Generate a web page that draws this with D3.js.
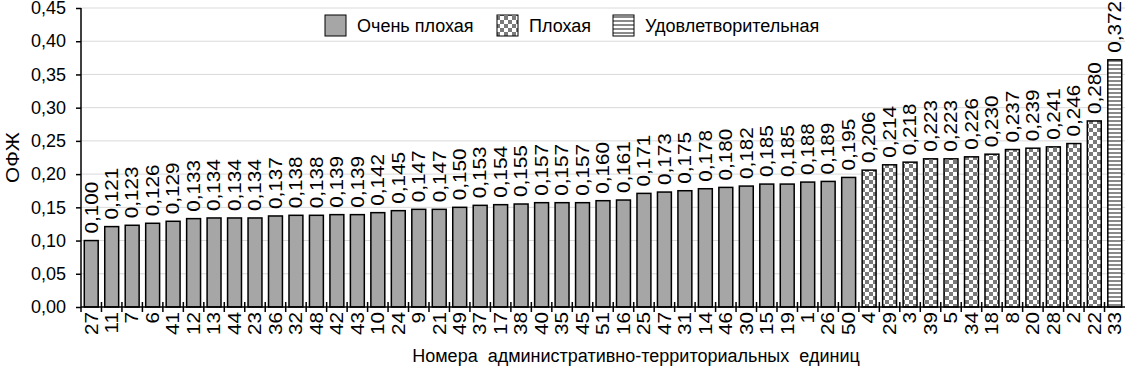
<!DOCTYPE html>
<html>
<head>
<meta charset="utf-8">
<script src="https://cdn.jsdelivr.net/npm/d3@7"></script>
<style>
  body { margin: 0; background: #fff; }
  text { font-family: "Liberation Sans", Arial, sans-serif; fill: #000; }
</style>
</head>
<body>
<svg id="chart"></svg>
<script>
// chart data
const units = ["27","11","7","6","41","12","13","44","23","36","32","48","42","43","10","24","9","21","49","37",
  "17","38","40","35","45","51","16","25","47","31","14","46","30","15","19","1","26","50",
  "4","29","3","39","5","34","18","8","20","28","2","22","33"];
const values = [0.100,0.121,0.123,0.126,0.129,0.133,0.134,0.134,0.134,0.137,0.138,0.138,0.139,0.139,0.142,0.145,0.147,0.147,0.150,0.153,
  0.154,0.155,0.157,0.157,0.157,0.160,0.161,0.171,0.173,0.175,0.178,0.180,0.182,0.185,0.185,0.188,0.189,0.195,
  0.206,0.214,0.218,0.223,0.223,0.226,0.230,0.237,0.239,0.241,0.246,0.280,0.372];
const groups = ["vbad","vbad","vbad","vbad","vbad","vbad","vbad","vbad","vbad","vbad","vbad","vbad","vbad","vbad","vbad","vbad","vbad","vbad","vbad","vbad",
  "vbad","vbad","vbad","vbad","vbad","vbad","vbad","vbad","vbad","vbad","vbad","vbad","vbad","vbad","vbad","vbad","vbad","vbad",
  "bad","bad","bad","bad","bad","bad","bad","bad","bad","bad","bad","bad","ok"];
const legendKeys = ["vbad", "bad", "ok"];
const legendLabels = ["Очень плохая", "Плохая", "Удовлетворительная"];
const yTicks = [0, 0.05, 0.10, 0.15, 0.20, 0.25, 0.30, 0.35, 0.40, 0.45];

const data = units.map((u, i) => ({x: u, y: values[i], g: groups[i]}));

const W = 1125, H = 370;
const margin = {top: 8, right: 0, bottom: 63, left: 81};
const width = W - margin.left - margin.right;
const height = H - margin.top - margin.bottom;
// rotated labels look a bit stretched along their length in the original
const stretch = 1.15;

const svg = d3.select('#chart').attr('width', W).attr('height', H);

// patterns
const defs = svg.append('defs');
const checker = defs.append('pattern')
    .attr('id', 'checker').attr('patternUnits', 'userSpaceOnUse')
    .attr('width', 8).attr('height', 8);
checker.append('rect').attr('width', 8).attr('height', 8).attr('fill', '#fff');
checker.append('rect').attr('width', 4).attr('height', 4).attr('fill', '#7a7a7a');
checker.append('rect').attr('x', 4).attr('y', 4).attr('width', 4).attr('height', 4).attr('fill', '#7a7a7a');

const stripes = defs.append('pattern')
    .attr('id', 'stripes').attr('patternUnits', 'userSpaceOnUse')
    .attr('width', 4).attr('height', 4);
stripes.append('rect').attr('width', 4).attr('height', 4).attr('fill', '#fff');
stripes.append('rect').attr('width', 4).attr('height', 2).attr('fill', '#8a8a8a');

const fillFor = {vbad: '#a6a6a6', bad: 'url(#checker)', ok: 'url(#stripes)'};

const chart = svg.append('g')
    .attr('transform', `translate(${margin.left},${margin.top})`);

const xScale = d3.scaleBand()
    .domain(units)
    .range([0, width])
    .paddingInner(0.32)
    .paddingOuter(0.16);

const yScale = d3.scaleLinear()
    .domain([0, 0.45])
    .range([height, 0]);

const fmt = d => d3.format('.2f')(d).replace('.', ',');
const fmt3 = d => d3.format('.3f')(d).replace('.', ',');

// gridlines
chart.append('g')
  .selectAll('line')
  .data(yTicks.slice(1))
  .join('line')
    .attr('x1', 0).attr('x2', width)
    .attr('y1', d => yScale(d)).attr('y2', d => yScale(d))
    .attr('stroke', '#d9d9d9').attr('stroke-width', 1);

// bars
chart.selectAll('.bar')
    .data(data)
  .join('rect')
    .attr('class', 'bar')
    .attr('x', d => xScale(d.x))
    .attr('width', xScale.bandwidth())
    .attr('y', d => yScale(d.y))
    .attr('height', d => height - yScale(d.y))
    .attr('fill', d => fillFor[d.g])
    .attr('stroke', '#000')
    .attr('stroke-width', 1.5);

// value labels
chart.selectAll('.val')
    .data(data)
  .join('text')
    .attr('class', 'val')
    .attr('transform', d => `translate(${xScale(d.x) + xScale.bandwidth() / 2},${yScale(d.y) - 7}) rotate(-90) scale(${stretch},1)`)
    .attr('dy', '0.35em')
    .attr('font-size', 18)
    .text(d => fmt3(d.y));

// y axis
const yAxisG = chart.append('g')
    .call(d3.axisLeft(yScale).tickValues(yTicks).tickFormat(fmt).tickSize(5).tickPadding(10));
yAxisG.select('.domain').attr('stroke', '#000').attr('stroke-width', 1.5).attr('d', `M0,${height + 5}V0`);
yAxisG.selectAll('.tick line').attr('stroke-width', 1.5);
yAxisG.selectAll('text').attr('font-size', 18).attr('font-family', '"Liberation Sans", Arial, sans-serif');

// x axis line
chart.append('line')
    .attr('x1', 0).attr('x2', width)
    .attr('y1', height).attr('y2', height)
    .attr('stroke', '#000').attr('stroke-width', 1.5);

// x ticks at band boundaries
const step = xScale.step();
chart.append('g')
  .selectAll('line')
  .data(units.slice(1))
  .join('line')
    .attr('x1', d => xScale(d) - (step - xScale.bandwidth()) / 2)
    .attr('x2', d => xScale(d) - (step - xScale.bandwidth()) / 2)
    .attr('y1', height - 5).attr('y2', height + 5)
    .attr('stroke', '#000').attr('stroke-width', 1.5);

// x tick labels
chart.selectAll('.xlab')
    .data(data)
  .join('text')
    .attr('class', 'xlab')
    .attr('transform', d => `translate(${xScale(d.x) + xScale.bandwidth() / 2},${height + 5}) rotate(-90) scale(${stretch},1)`)
    .attr('dy', '0.35em')
    .attr('text-anchor', 'end')
    .attr('font-size', 18)
    .text(d => d.x);

// axis titles
svg.append('text')
    .attr('transform', `translate(19,${margin.top + height / 2}) rotate(-90) scale(${stretch},1)`)
    .attr('text-anchor', 'middle')
    .attr('font-size', 18)
    .text('ОФЖ');

svg.append('text')
    .attr('x', 636).attr('y', 362)
    .attr('text-anchor', 'middle')
    .attr('font-size', 18)
    .attr('xml:space', 'preserve')
    .style('white-space', 'pre')
    .text('Номера  административно-территориальных  единиц');

// legend
const legendX = [325, 497, 613];
const legend = svg.append('g');
legendKeys.forEach((k, i) => {
  legend.append('rect')
      .attr('x', legendX[i]).attr('y', 15)
      .attr('width', 21).attr('height', 21)
      .attr('fill', fillFor[k])
      .attr('stroke', '#000').attr('stroke-width', 1);
  legend.append('text')
      .attr('x', legendX[i] + 32).attr('y', 32)
      .attr('font-size', 18)
      .text(legendLabels[i]);
});
</script>
</body>
</html>
